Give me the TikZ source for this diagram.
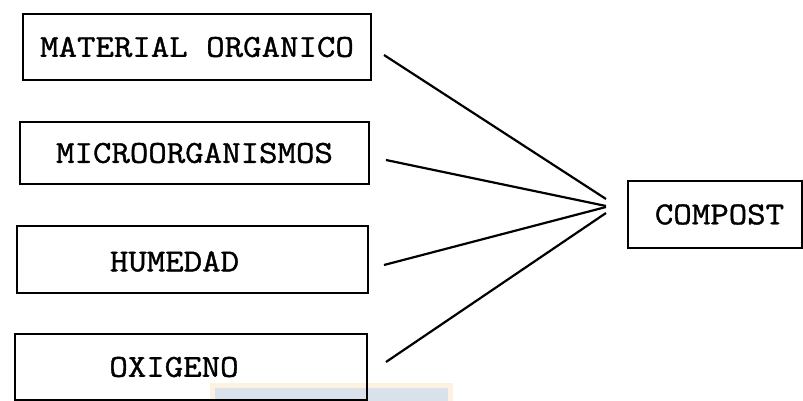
\documentclass[tikz,border=0pt]{standalone}
\usepackage{fontspec}
\newfontfamily\boxfont[FakeStretch=1.12,FakeBold=1.2]{Latin Modern Mono}
\tikzset{
  boxtext/.style={font=\boxfont\fontsize{32}{32}\selectfont},
  box/.style={draw, line width=2pt, inner sep=0pt, boxtext},
  link/.style={line width=2.2pt}
}
\definecolor{markedge}{HTML}{FDF2E2}
\definecolor{markfill}{HTML}{D9E1EB}
\begin{document}
\begin{tikzpicture}[x=1pt,y=-1pt]
\useasboundingbox (0,0) rectangle (803,401);
% faint stamp at the bottom
\fill[markedge] (210,383) rectangle (453,401);
\fill[markfill] (215,388) rectangle (448,401);
% inputs
\node[box, minimum width=348pt, minimum height=66pt] (mat) at (197,47) {MATERIAL ORGANICO};
\node[box, minimum width=349pt, minimum height=62pt] (mic) at (194.5,153) {MICROORGANISMOS};
\node[box, minimum width=351pt, minimum height=67pt,
  label={[xshift=-18pt,yshift=-2pt,boxtext]center:HUMEDAD}] (hum) at (192.5,259.5) {};
\node[box, minimum width=352pt, minimum height=66pt,
  label={[xshift=-17pt,boxtext]center:OXIGENO}] (oxi) at (191,367) {};
% result
\node[box, minimum width=174pt, minimum height=67pt] (com) at (714.5,214.5) {\hspace*{10pt}COMPOST};
\coordinate (hub) at (606,206);
\draw[link] ([xshift=12pt,yshift=-8pt]mat.east) -- ([yshift=7pt]hub);
\draw[link] ([xshift=16pt,yshift=-7pt]mic.east) -- (hub);
\draw[link] ([xshift=15pt,yshift=-5.5pt]hum.east) -- ([yshift=-1pt]hub);
\draw[link] ([xshift=18pt,yshift=5pt]oxi.east) -- ([yshift=-7pt]hub);
\end{tikzpicture}
\end{document}
